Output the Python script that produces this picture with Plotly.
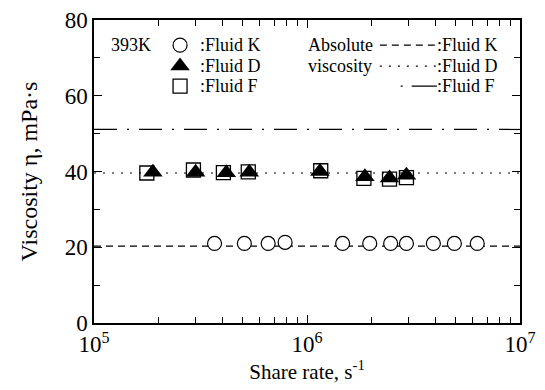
import plotly.graph_objects as go

# ---- data ----
k_rate = [3.68e5, 5.08e5, 6.57e5, 7.89e5, 1.47e6, 1.97e6, 2.47e6, 2.93e6, 3.92e6, 4.92e6, 6.30e6]
k_visc = [21.0, 21.0, 21.0, 21.3, 21.0, 21.0, 21.0, 21.0, 21.0, 21.0, 21.0]
d_rate = [1.89e5, 3.0e5, 4.18e5, 5.36e5, 1.15e6, 1.87e6, 2.44e6, 2.93e6]
d_visc = [39.8, 39.8, 39.7, 39.8, 40.0, 38.6, 38.3, 39.0]
f_rate = [1.77e5, 2.93e5, 4.05e5, 5.30e5, 1.16e6, 1.85e6, 2.44e6, 2.93e6]
f_visc = [39.6, 40.4, 39.7, 39.9, 40.2, 38.2, 38.0, 38.4]
abs_visc = {"K": 20.3, "D": 39.6, "F": 51.1}
x_range = [1e5, 1e7]

FONT = "Liberation Serif"
BLACK = "black"
DASH_K = "7px,5px"
DASH_D = "2px,7px"
DASH_F = "23px,10px,2px,10px"

fig = go.Figure()

# absolute viscosity lines
for key, dash in [("K", DASH_K), ("D", DASH_D), ("F", DASH_F)]:
    fig.add_trace(go.Scatter(x=x_range, y=[abs_visc[key]] * 2, mode="lines",
                             line=dict(color=BLACK, width=1.2, dash=dash), showlegend=False))

fig.add_trace(go.Scatter(x=f_rate, y=f_visc, mode="markers",
                         marker=dict(symbol="square-open", size=14, color=BLACK, line=dict(width=1.3)),
                         showlegend=False))
fig.add_trace(go.Scatter(x=d_rate, y=d_visc, mode="markers",
                         marker=dict(symbol="triangle-up", size=17, color=BLACK, line=dict(width=0)),
                         showlegend=False))
fig.add_trace(go.Scatter(x=k_rate, y=k_visc, mode="markers",
                         marker=dict(symbol="circle", size=14, color="white", line=dict(width=1.2, color=BLACK)),
                         showlegend=False))

# ---- in-plot key (overlay axes 0..1) ----
rows = [0.917, 0.848, 0.782]
sym_x = 0.202
fig.add_trace(go.Scatter(x=[sym_x], y=[rows[0]], xaxis="x2", yaxis="y2", mode="markers",
                         marker=dict(symbol="circle", size=14, color="white", line=dict(width=1.2, color=BLACK)),
                         showlegend=False))
fig.add_trace(go.Scatter(x=[sym_x], y=[rows[1]], xaxis="x2", yaxis="y2", mode="markers",
                         marker=dict(symbol="triangle-up", size=17, color=BLACK, line=dict(width=0)),
                         showlegend=False))
fig.add_trace(go.Scatter(x=[sym_x], y=[rows[2]], xaxis="x2", yaxis="y2", mode="markers",
                         marker=dict(symbol="square-open", size=14, color=BLACK, line=dict(width=1.3)),
                         showlegend=False))
key_lines = [(0.671, DASH_K), (0.671, DASH_D), (0.72, "2px,9px,40px")]
for r, (x0, dash) in zip(rows, key_lines):
    fig.add_trace(go.Scatter(x=[x0, 0.805], y=[r, r], xaxis="x2", yaxis="y2", mode="lines",
                             line=dict(color=BLACK, width=1.2, dash=dash), showlegend=False))

ann = []
def txt(x, y, s):
    ann.append(dict(x=x, y=y, xref="paper", yref="paper", text=s, showarrow=False,
                    xanchor="left", yanchor="middle", font=dict(family=FONT, size=18, color=BLACK)))
txt(0.035, rows[0], "393K")
txt(0.245, rows[0], ":Fluid K")
txt(0.245, rows[1], ":Fluid D")
txt(0.245, rows[2], ":Fluid F")
txt(0.497, rows[0], "Absolute")
txt(0.497, rows[1], "viscosity")
txt(0.800, rows[0], ":Fluid K")
txt(0.800, rows[1], ":Fluid D")
txt(0.800, rows[2], ":Fluid F")

axis_common = dict(showline=True, linecolor=BLACK, linewidth=1.5, mirror="ticks", ticks="inside",
                   tickcolor=BLACK, tickwidth=1.2, ticklen=8, showgrid=False, zeroline=False,
                   automargin=False,
                   tickfont=dict(family=FONT, size=23, color=BLACK))

fig.update_layout(
    width=545, height=390,
    margin=dict(l=94, r=25, t=20, b=67),
    paper_bgcolor="white", plot_bgcolor="white",
    font=dict(family=FONT, color=BLACK),
    annotations=ann,
    xaxis=dict(type="log", range=[5, 7], tickmode="array",
               tickvals=[1e5, 1e6, 1e7],
               ticktext=["10<sup>5</sup>", "10<sup>6</sup>", "10<sup>7</sup>"],
               minor=dict(ticks="inside", ticklen=6, tickwidth=1, tickcolor=BLACK, tickmode="array",
                          tickvals=[m * 10 ** e for e in (5, 6) for m in range(2, 10)]),
               title=dict(text="Share rate, s<sup>-1</sup>", font=dict(family=FONT, size=21, color=BLACK), standoff=8),
               **axis_common),
    yaxis=dict(range=[0, 80], tickmode="array", tickvals=[0, 20, 40, 60, 80],
               minor=dict(ticks="inside", ticklen=6, tickwidth=1, tickcolor=BLACK, tickmode="array",
                          tickvals=[10, 30, 50, 70]),
               title=dict(text="Viscosity η, mPa·s", font=dict(family=FONT, size=24, color=BLACK), standoff=20),
               **axis_common),
    xaxis2=dict(overlaying="x", range=[0, 1], visible=False, fixedrange=True),
    yaxis2=dict(overlaying="y", range=[0, 1], visible=False, fixedrange=True),
)

fig.write_html("out.html")
